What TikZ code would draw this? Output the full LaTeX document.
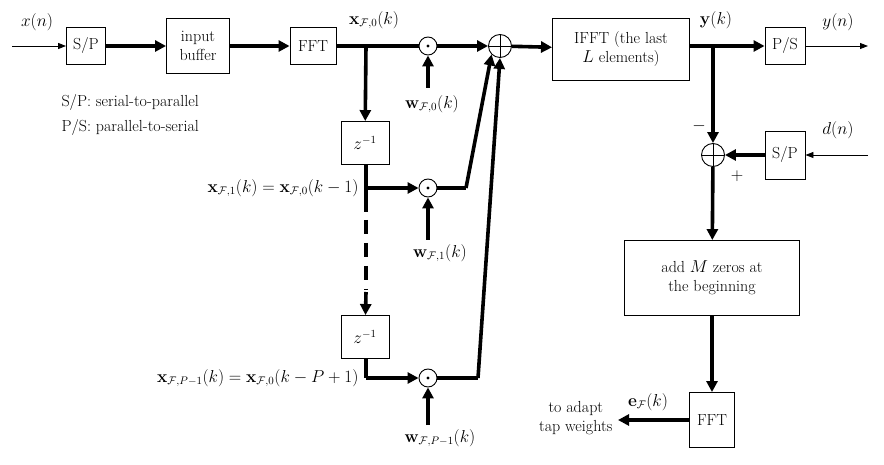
\documentclass[tikz,border=0pt]{standalone}
\usepackage{amsmath}
\usetikzlibrary{arrows.meta}
\begin{document}
\begin{tikzpicture}[x=1pt,y=-1pt,font=\fontsize{16}{19}\selectfont,
  box/.style={draw,line width=0.9pt,minimum height=37pt,align=center,inner sep=2pt},
  thk/.style={line width=3.6pt},
  tar/.style={line width=3.6pt,-{Triangle[length=11pt,width=11pt]}},
  thin/.style={line width=0.9pt,-{Triangle[length=8pt,width=6pt]}},
  mul/.style={draw,circle,line width=0.9pt,minimum size=18pt,inner sep=0pt},
  sum/.style={draw,circle,line width=0.9pt,minimum size=23pt,inner sep=0pt}]
\useasboundingbox (0,0) rectangle (884,465);
\node[box,minimum width=39pt] (sp) at (86,46) {S/P};
\node[box,minimum width=63pt,minimum height=55pt] (buf) at (198,46) {input\\buffer};
\node[box,minimum width=46pt] (fft) at (313,46) {FFT};
\node[mul] (m0) at (428,46) {};
\fill (m0) circle (1.6pt);
\node[sum] (s0) at (500,46) {};
\draw[line width=0.9pt] (s0.north)--(s0.south) (s0.west)--(s0.east);
\node[box,minimum width=137pt,minimum height=62pt] (ifft) at (621,49) {IFFT (the last\\$L$ elements)};
\node[box,minimum width=40pt] (ps) at (785,46) {P/S};
\coordinate (xin) at (12,46);
\coordinate (yout) at (868,46);
\node (xl) at (37,22) {$x(n)$};
\node (yl) at (838,22) {$y(n)$};
\draw[thin] (xin)--(sp);
\draw[tar] (sp)--(buf);
\draw[tar] (buf)--(fft);
\draw[thk] (fft)--(m0);
\node (x0l) at (374,20) {$\mathbf{x}_{\mathcal{F},0}(k)$};
\draw[tar] (m0)--(s0);
\draw[tar] (s0)--(ifft);
\coordinate (yb) at (713,46);
\node (ykl) at (716,20) {$\mathbf{y}(k)$};
\draw[tar] (ifft.east |- ps)--(ps);
\draw[thin] (ps)--(yout);
\node[anchor=west] (leg1) at (58,103) {S/P: serial-to-parallel};
\node[anchor=west] (leg2) at (58,128) {P/S: parallel-to-serial};
% branch
\coordinate (b0) at (366,46);
\node[box,minimum width=48pt,minimum height=43pt] (z1) at (365,143) {$z^{-1}$};
\node[box,minimum width=48pt,minimum height=43pt] (z2) at (365,337) {$z^{-1}$};
\draw[tar] (b0)--(z1);
\coordinate (b1) at (366,188);
\coordinate (b2) at (366,378);
\node[mul] (m1) at (428,188) {};
\fill (m1) circle (1.6pt);
\node[mul] (m2) at (428,378) {};
\fill (m2) circle (1.6pt);
\draw[thk] (z1.south -| b1)--(b1);
\draw[tar] (b1)--(m1);
\draw[thk] (b1)--(366,212);
\draw[thk,dash pattern=on 14pt off 9pt] (366,220)--(366,290);
\draw[tar] (366,292)--(z2);
\draw[thk] (z2.south -| b2)--(b2);
\draw[tar] (b2)--(m2);
\node[anchor=east] (x1l) at (362,188) {$\mathbf{x}_{\mathcal{F},1}(k)=\mathbf{x}_{\mathcal{F},0}(k-1)$};
\node[anchor=east] (x2l) at (362,378) {$\mathbf{x}_{\mathcal{F},P-1}(k)=\mathbf{x}_{\mathcal{F},0}(k-P+1)$};
% weights
\coordinate (w0) at (428,88);
\coordinate (w1) at (428,240);
\coordinate (w2) at (428,425);
\draw[tar] (w0)--(m0);
\draw[tar] (w1)--(m1);
\draw[tar] (w2)--(m2);
\node (w0l) at (432,104) {$\mathbf{w}_{\mathcal{F},0}(k)$};
\node (w1l) at (440,253) {$\mathbf{w}_{\mathcal{F},1}(k)$};
\node (w2l) at (440,438) {$\mathbf{w}_{\mathcal{F},P-1}(k)$};
\coordinate (c1) at (466,188);
\coordinate (c2) at (478,378);
\draw[thk] (m1)--(c1);
\draw[tar] (c1)--(s0.south west);
\draw[thk] (m2)--(c2);
\draw[tar] (c2)--(s0.south);
% error path
\node[sum] (s1) at (713,155) {};
\draw[line width=0.9pt] (s1.north)--(s1.south) (s1.west)--(s1.east);
\node[box,minimum width=40pt,minimum height=48pt] (sp2) at (785,155) {S/P};
\coordinate (din) at (868,155);
\node (dl) at (838,130) {$d(n)$};
\draw[thin] (din)--(sp2);
\draw[tar] (sp2)--(s1);
\draw[tar] (yb)--(s1);
\node (minus) at (699,126) {$-$};
\node (plus) at (737,176) {$+$};
\node[box,minimum width=175pt,minimum height=75pt] (add) at (712,278) {add $M$ zeros at\\the beginning};
\draw[tar] (s1)--(add);
\node[box,minimum width=45pt,minimum height=55pt] (fft2) at (712,420) {FFT};
\draw[tar] (add)--(fft2);
\coordinate (adapt) at (618,420);
\draw[tar] (fft2)--(adapt);
\node (el) at (648,402) {$\mathbf{e}_{\mathcal{F}}(k)$};
\node[align=center,anchor=east] (al) at (616,418) {to adapt\\tap weights};
\end{tikzpicture}
\end{document}
